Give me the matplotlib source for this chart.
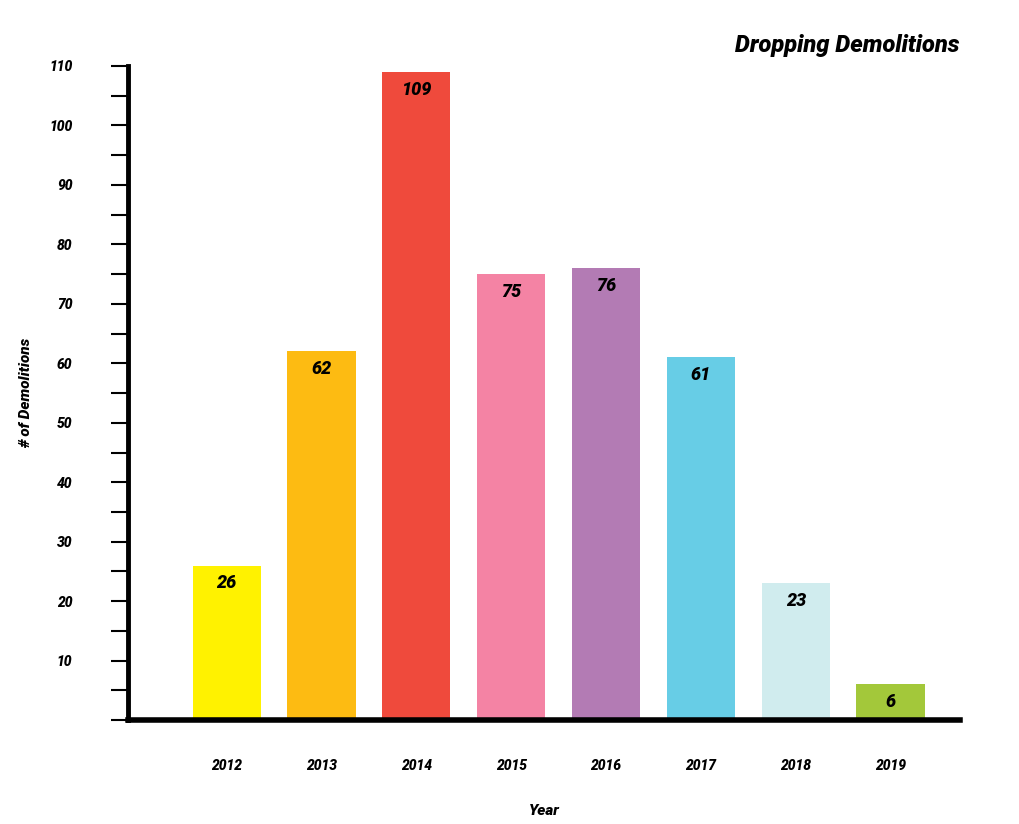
import matplotlib.pyplot as plt
from matplotlib.ticker import MultipleLocator

years = ["2012", "2013", "2014", "2015", "2016", "2017", "2018", "2019"]
demolitions = [26, 62, 109, 75, 76, 61, 23, 6]
colors = ["#FFF200", "#FDBB12", "#EF4A3C", "#F483A4",
          "#B37BB4", "#67CDE6", "#D0ECEE", "#A3C83A"]

plt.rcParams["font.family"] = "Roboto"
fnt = dict(fontweight="heavy", fontstyle="italic")

fig = plt.figure(figsize=(10.2, 8.24), dpi=100)
ax = fig.add_axes([0.1255, 0.126, 0.8155, 0.794])

x = range(len(years))
bars = ax.bar(x, demolitions, width=0.72, color=colors, zorder=2)
for xi, v in zip(x, demolitions):
    ax.text(xi, v - 1.5, str(v), ha="center", va="top", fontsize=13, **fnt)

ax.set_xlim(-1.04, 7.73)
ax.set_ylim(0, 110)
ax.yaxis.set_major_locator(MultipleLocator(10))
ax.yaxis.set_minor_locator(MultipleLocator(5))
ax.set_yticks(range(10, 111, 10))
ax.set_xticks(list(x))
ax.set_xticklabels(years)
for lab in ax.get_xticklabels() + ax.get_yticklabels():
    lab.set_fontweight("heavy")
    lab.set_fontstyle("italic")
    lab.set_fontsize(10)

ax.tick_params(axis="y", which="both", length=12, width=1.5, pad=28)
ax.tick_params(axis="x", length=0, pad=28)
for s in ["top", "right"]:
    ax.spines[s].set_visible(False)
ax.spines["left"].set_linewidth(3.5)
ax.spines["bottom"].set_linewidth(4)

ax.set_xlabel("Year", fontsize=11, labelpad=22, **fnt)
ax.set_ylabel("# of Demolitions", fontsize=11, labelpad=12, **fnt)
fig.text(0.941, 0.945, "Dropping Demolitions", ha="right", va="center",
         fontsize=17, **fnt)

fig.savefig("out.png", dpi=100)
